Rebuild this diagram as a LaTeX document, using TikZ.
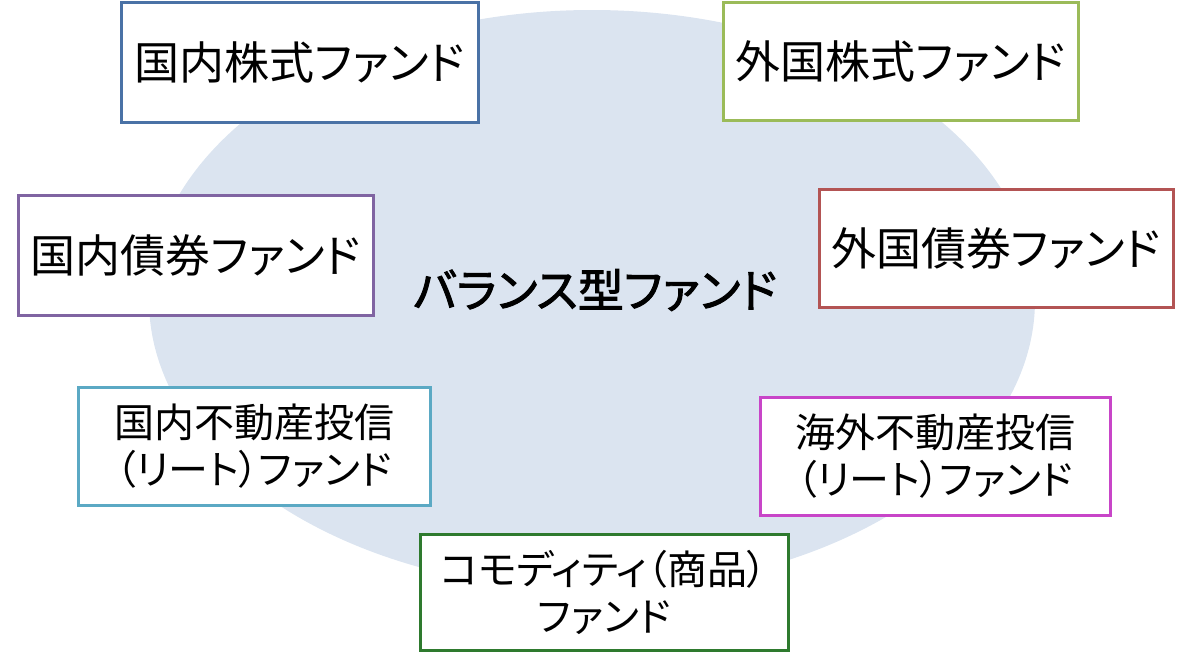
\documentclass[tikz,border=0pt]{standalone}
\usepackage{fontspec}
\setmainfont[RawFeature=+palt]{Noto Sans CJK JP}
\newfontfamily\centerfont[RawFeature=+palt, FakeBold=2]{Noto Sans CJK JP}
\definecolor{cA}{HTML}{4A72A6}
\definecolor{cB}{HTML}{9BBB59}
\definecolor{cC}{HTML}{8064A2}
\definecolor{cD}{HTML}{B35454}
\definecolor{cE}{HTML}{5BA9C4}
\definecolor{cF}{HTML}{C845C8}
\definecolor{cG}{HTML}{2E7A2E}
\definecolor{ellfill}{HTML}{DBE4F0}
\tikzset{
  fundbox/.style={draw=#1, line width=3pt, fill=white, align=center, inner sep=0pt},
  bigtext/.style={font=\fontsize{45}{52}\selectfont},
  midtext/.style={font=\fontsize{40}{47}\selectfont},
}
\begin{document}
\begin{tikzpicture}[x=1pt,y=-1pt]
\useasboundingbox (0,0) rectangle (1200,662);
\fill[ellfill] (592,300) ellipse [x radius=443pt, y radius=290pt];
\node[font=\fontsize{46}{52}\centerfont] (center) at (595,290) {バランス型ファンド};
\node[fundbox=cA, bigtext, minimum width=357pt, minimum height=120pt] (b1) at (299.5,62) {国内株式ファンド};
\node[fundbox=cB, bigtext, minimum width=355pt, minimum height=118pt] (b2) at (900.5,61) {外国株式ファンド};
\node[fundbox=cC, bigtext, minimum width=355pt, minimum height=120pt] (b3) at (195.5,255) {国内債券ファンド};
\node[fundbox=cD, bigtext, minimum width=354pt, minimum height=118pt] (b4) at (996,248) {外国債券ファンド};
\node[fundbox=cE, midtext, minimum width=352pt, minimum height=118pt] (b5) at (254,446) {国内不動産投信\\（リート）ファンド};
\node[fundbox=cF, midtext, minimum width=350pt, minimum height=118pt] (b6) at (935,456) {海外不動産投信\\（リート）ファンド};
\node[fundbox=cG, midtext, minimum width=368pt, minimum height=116pt] (b7) at (604,592) {コモディティ（商品）\\ファンド};
\end{tikzpicture}
\end{document}
